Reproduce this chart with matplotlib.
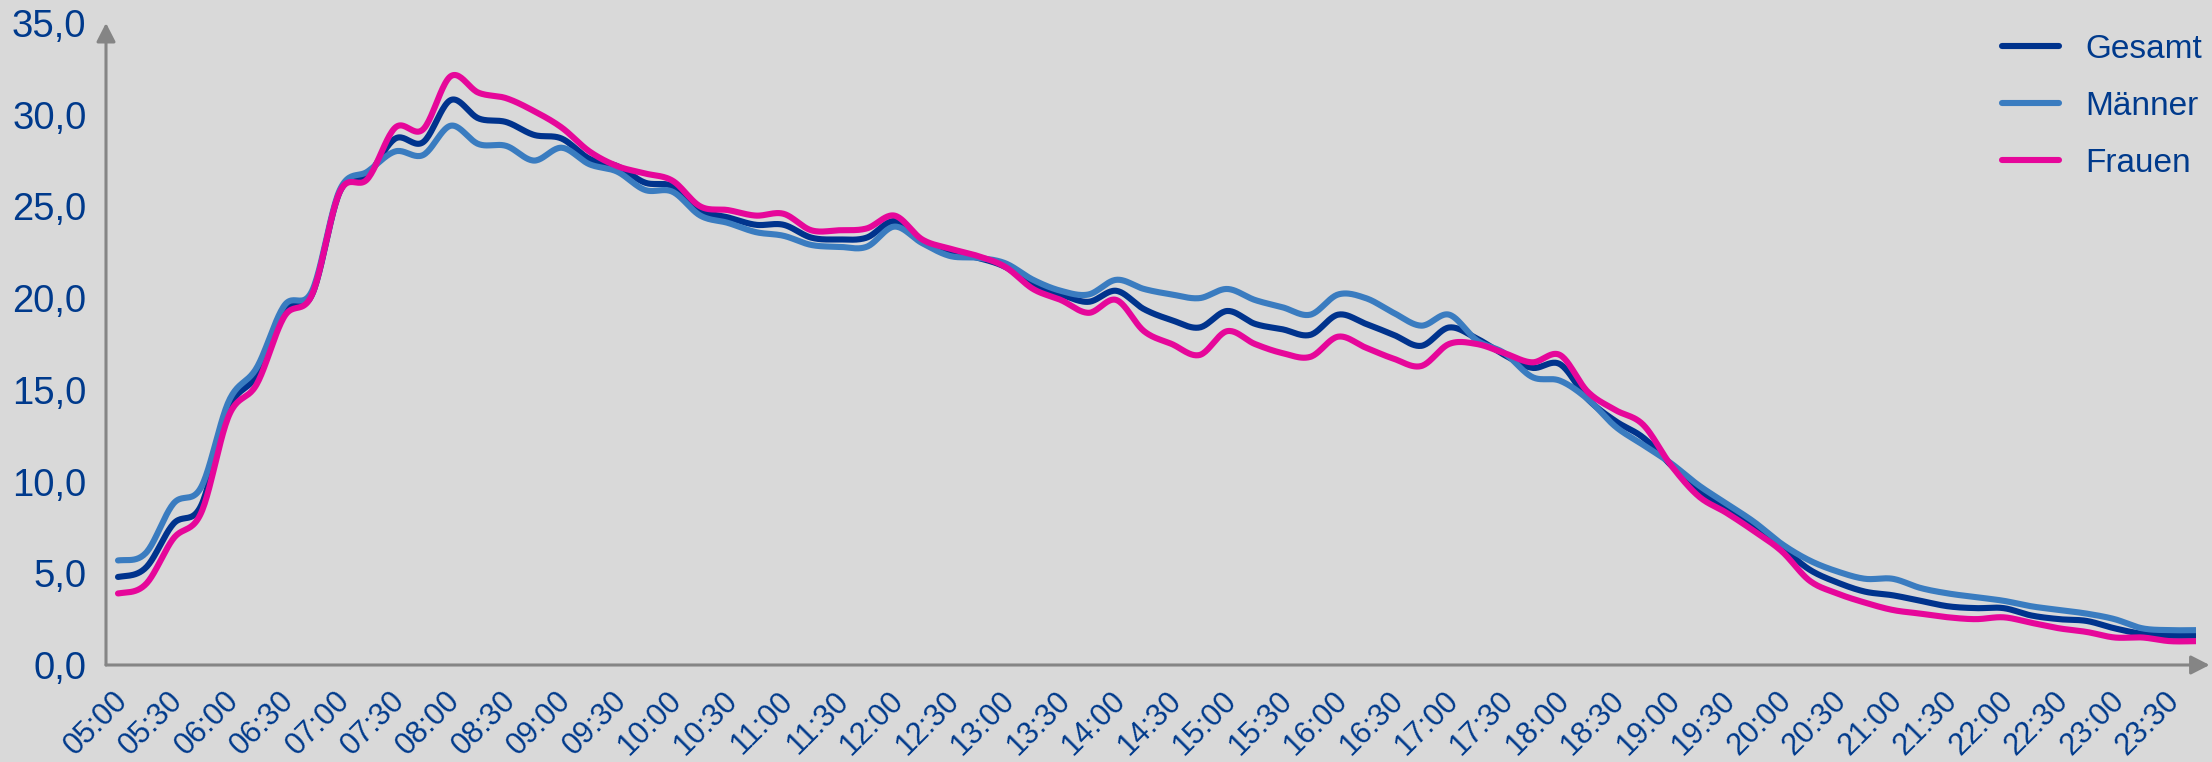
import numpy as np
import matplotlib
matplotlib.use("Agg")
import matplotlib.pyplot as plt
from matplotlib.transforms import ScaledTranslation

plt.rcParams['font.family'] = ['Liberation Sans', 'DejaVu Sans']

# 15-minute slots from 05:00 to 23:45
times = ["%02d:%02d" % (5 + k // 4, (k % 4) * 15) for k in range(76)]

gesamt = [4.8, 5.3, 7.7, 8.7, 14.0, 15.8, 19.3, 20.2, 25.8, 26.7,
          28.7, 28.5, 30.8, 29.8, 29.6, 28.9, 28.7, 27.6, 27.2, 26.3,
          26.1, 24.8, 24.4, 24.0, 24.0, 23.3, 23.2, 23.3, 24.2, 23.1,
          22.5, 22.2, 21.7, 20.7, 20.2, 19.8, 20.4, 19.4, 18.8, 18.4,
          19.3, 18.6, 18.3, 18.0, 19.1, 18.6, 18.0, 17.4, 18.4, 17.8,
          16.9, 16.2, 16.4, 14.5, 13.3, 12.4, 10.9, 9.5, 8.5, 7.5,
          6.4, 5.2, 4.5, 4.0, 3.8, 3.5, 3.2, 3.1, 3.1, 2.7,
          2.5, 2.4, 2.0, 1.7, 1.6, 1.6]
maenner = [5.7, 6.1, 8.8, 9.7, 14.4, 16.2, 19.6, 20.4, 25.9, 26.9,
           28.0, 27.8, 29.4, 28.4, 28.3, 27.5, 28.2, 27.3, 26.9, 25.9,
           25.8, 24.5, 24.1, 23.6, 23.4, 22.9, 22.8, 22.8, 23.9, 23.0,
           22.3, 22.2, 21.9, 21.0, 20.4, 20.2, 21.0, 20.5, 20.2, 20.0,
           20.5, 19.9, 19.5, 19.1, 20.2, 20.0, 19.2, 18.5, 19.1, 17.7,
           17.0, 15.7, 15.5, 14.5, 13.0, 12.0, 11.0, 9.8, 8.8, 7.8,
           6.6, 5.7, 5.1, 4.7, 4.7, 4.2, 3.9, 3.7, 3.5, 3.2,
           3.0, 2.8, 2.5, 2.0, 1.9, 1.9]
frauen = [3.9, 4.4, 6.9, 8.3, 13.6, 15.3, 19.0, 20.2, 25.8, 26.5,
          29.3, 29.2, 32.1, 31.2, 30.9, 30.2, 29.3, 28.0, 27.2, 26.8,
          26.4, 25.0, 24.8, 24.5, 24.6, 23.7, 23.7, 23.8, 24.5, 23.2,
          22.7, 22.3, 21.7, 20.5, 19.9, 19.2, 19.9, 18.2, 17.5, 16.9,
          18.2, 17.5, 17.0, 16.8, 17.9, 17.3, 16.7, 16.3, 17.5, 17.5,
          17.0, 16.5, 16.9, 14.9, 13.9, 13.1, 10.9, 9.2, 8.3, 7.3,
          6.2, 4.6, 3.9, 3.4, 3.0, 2.8, 2.6, 2.5, 2.6, 2.3,
          2.0, 1.8, 1.5, 1.5, 1.3, 1.3]

series = [("Gesamt", gesamt, "#00338d"),
          ("Männer", maenner, "#3a7cc0"),
          ("Frauen", frauen, "#e6079a")]
yticks = [0, 5, 10, 15, 20, 25, 30, 35]

navy = "#003a8c"
grey = "#858585"


def smooth(y, n=24):
    # Catmull-Rom curve through the points, like Excel's smoothed lines
    y = np.asarray(y, dtype=float)
    xs, ys = [], []
    t = np.linspace(0, 1, n, endpoint=False)
    for i in range(len(y) - 1):
        p0 = y[max(i - 1, 0)]
        p1, p2 = y[i], y[i + 1]
        p3 = y[min(i + 2, len(y) - 1)]
        seg = 0.5 * (2 * p1 + (-p0 + p2) * t
                     + (2 * p0 - 5 * p1 + 4 * p2 - p3) * t ** 2
                     + (-p0 + 3 * p1 - 3 * p2 + p3) * t ** 3)
        xs.append(i + t)
        ys.append(seg)
    xs.append([len(y) - 1])
    ys.append([y[-1]])
    return np.concatenate(xs), np.concatenate(ys)


W, H = 2212, 762
fig = plt.figure(figsize=(W / 100, H / 100), dpi=100)
fig.patch.set_facecolor("#d9d9d9")

left, right, bottom, top = 106, 2196, 665, 23
ax = fig.add_axes([left / W, 1 - bottom / H, (right - left) / W, (bottom - top) / H])
ax.set_facecolor("none")

step = 27.73
ax.set_xlim(-(118 - left) / step, (right - 118) / step)
ax.set_ylim(0, 35)

for name, vals, col in series:
    sx, sy = smooth(vals)
    ax.plot(sx, sy, color=col, lw=4.4, solid_capstyle="round", label=name)

for s in ax.spines.values():
    s.set_visible(False)

# axes with arrow heads
arrow = dict(arrowstyle="-|>,head_length=0.45,head_width=0.23", color=grey,
             lw=2.2, shrinkA=0, shrinkB=0, mutation_scale=25)
ax.annotate("", xy=(0, 1.0), xytext=(0, 0), xycoords="axes fraction",
            arrowprops=arrow, annotation_clip=False)
ax.annotate("", xy=(1.0065, 0), xytext=(0, 0), xycoords="axes fraction",
            arrowprops=arrow, annotation_clip=False)

ax.set_yticks(yticks)
ax.set_yticklabels([("%.1f" % v).replace(".", ",") for v in yticks])
ax.set_xticks(range(0, len(times), 2))
ax.set_xticklabels(times[::2], rotation=45, ha="right", va="top",
                   rotation_mode="anchor")
ax.tick_params(axis="both", length=0, labelcolor=navy)
ax.tick_params(axis="y", pad=14, labelsize=27.5)
ax.tick_params(axis="x", pad=15, labelsize=22)

shift = ScaledTranslation(-4 / 72, 0, fig.dpi_scale_trans)
for lab in ax.get_xticklabels():
    lab.set_transform(lab.get_transform() + shift)

leg = ax.legend(loc="upper left", bbox_to_anchor=(2002 / W, 1 - 34 / H),
                bbox_transform=fig.transFigure, frameon=False, fontsize=24,
                labelcolor=navy, handlelength=1.7, handletextpad=0.8,
                labelspacing=0.78, borderpad=0, borderaxespad=0)

fig.savefig("out.png", dpi=100, facecolor=fig.get_facecolor())
